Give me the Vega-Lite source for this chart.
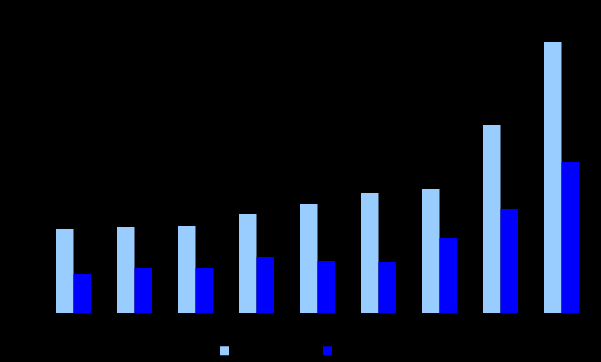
{
  "$schema": "https://vega.github.io/schema/vega-lite/v6.json",
  "width": 549,
  "height": 300,
  "autosize": {"type": "none"},
  "padding": {"left": 43, "top": 13, "right": 9, "bottom": 49},
  "background": "#000000",
  "config": {
    "view": {"stroke": null},
    "axis": {"domainColor": "#000000", "tickColor": "#000000", "labelColor": "#000000", "titleColor": "#000000", "grid": false},
    "legend": {"labelColor": "#000000", "titleColor": "#000000"}
  },
  "data": {
    "values": [
      {"category": "1", "series": "Series 1", "value": 84},
      {"category": "1", "series": "Series 2", "value": 39},
      {"category": "2", "series": "Series 1", "value": 86},
      {"category": "2", "series": "Series 2", "value": 45},
      {"category": "3", "series": "Series 1", "value": 87},
      {"category": "3", "series": "Series 2", "value": 45},
      {"category": "4", "series": "Series 1", "value": 99},
      {"category": "4", "series": "Series 2", "value": 56},
      {"category": "5", "series": "Series 1", "value": 109},
      {"category": "5", "series": "Series 2", "value": 52},
      {"category": "6", "series": "Series 1", "value": 120},
      {"category": "6", "series": "Series 2", "value": 51},
      {"category": "7", "series": "Series 1", "value": 124},
      {"category": "7", "series": "Series 2", "value": 75},
      {"category": "8", "series": "Series 1", "value": 188},
      {"category": "8", "series": "Series 2", "value": 104},
      {"category": "9", "series": "Series 1", "value": 271},
      {"category": "9", "series": "Series 2", "value": 151}
    ]
  },
  "mark": {"type": "bar"},
  "encoding": {
    "x": {
      "field": "category", "type": "nominal", "title": null,
      "scale": {"paddingInner": 0.4262, "paddingOuter": 0.2131},
      "axis": {"labelAngle": 0, "ticks": false, "domain": false}
    },
    "xOffset": {"field": "series", "type": "nominal", "scale": {"paddingInner": 0, "paddingOuter": 0}},
    "y": {
      "field": "value", "type": "quantitative", "title": null,
      "scale": {"domain": [0, 300], "nice": false},
      "axis": {"domain": false, "ticks": false}
    },
    "color": {
      "field": "series", "type": "nominal", "title": null,
      "scale": {"domain": ["Series 1", "Series 2"], "range": ["#99CCFF", "#0000FF"]},
      "legend": {
        "orient": "none", "direction": "horizontal",
        "legendX": 176, "legendY": 332,
        "symbolType": "square", "symbolSize": 81, "symbolStrokeWidth": 0,
        "columnPadding": 47, "labelFontSize": 11
      }
    }
  }
}
